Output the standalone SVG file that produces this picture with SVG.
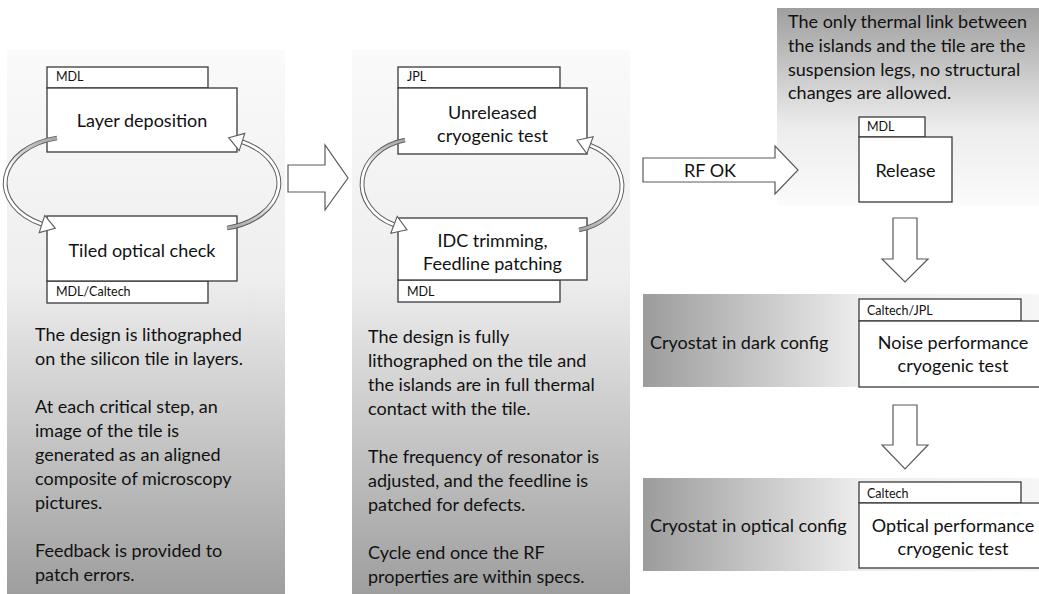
<svg xmlns="http://www.w3.org/2000/svg" xmlns:xlink="http://www.w3.org/1999/xlink" width="1039" height="594" viewBox="0 0 1039 594">
<defs>
<linearGradient id="gPanel" x1="0" y1="0" x2="0" y2="1">
<stop offset="0" stop-color="#fafafa"/><stop offset="0.42" stop-color="#eeeeee"/><stop offset="1" stop-color="#9e9e9e"/>
</linearGradient>
<linearGradient id="gTop" x1="0" y1="0" x2="0" y2="1">
<stop offset="0" stop-color="#9f9f9f"/><stop offset="0.6" stop-color="#ececec"/><stop offset="1" stop-color="#fbfbfb"/>
</linearGradient>
<linearGradient id="gBand" gradientUnits="userSpaceOnUse" x1="643" y1="0" x2="1039" y2="0">
<stop offset="0" stop-color="#9c9c9c"/><stop offset="0.55" stop-color="#ededed"/><stop offset="1" stop-color="#f6f6f6"/>
</linearGradient>
<linearGradient id="gTailL" gradientUnits="userSpaceOnUse" x1="0" y1="136" x2="0" y2="166">
<stop offset="0" stop-color="#a0a0a0"/><stop offset="1" stop-color="#ffffff"/>
</linearGradient>
<linearGradient id="gTailM" gradientUnits="userSpaceOnUse" x1="0" y1="138" x2="0" y2="168">
<stop offset="0" stop-color="#a0a0a0"/><stop offset="1" stop-color="#ffffff"/>
</linearGradient>
<style>
.box{fill:#ffffff;stroke:#3a3a3a;stroke-width:1.3}
.fat{fill:#ffffff;stroke:#5a5a5a;stroke-width:1.2;stroke-linejoin:miter}
.arcO{fill:none;stroke:#5e5e5e;stroke-width:4.8}
.arcI{fill:none;stroke-width:2.8}
.head{fill:#ffffff;stroke:#5e5e5e;stroke-width:1.1;stroke-linejoin:miter}
.t{font-family:Lato,"Liberation Sans",sans-serif;font-size:18px;fill:#111111}
.c{text-anchor:middle}
.s{font-family:Lato,"Liberation Sans",sans-serif;font-size:12.5px;fill:#111111}
</style>
<g id="arcLeftA">
<path class="arcO" d="M57,138 A66,46 0 0 0 42,224.2"/>
<path class="arcI" d="M57,138 A66,46 0 0 0 42,224.2" stroke="url(#gTailL)"/>
<polygon class="head" points="55.3,228.3 39.2,232.6 44.8,215.4"/>
</g>
<g id="arcMidA">
<path class="arcO" d="M405,140 A56,45.2 0 0 0 394,224.8"/>
<path class="arcI" d="M405,140 A56,45.2 0 0 0 394,224.8" stroke="url(#gTailM)"/>
<polygon class="head" points="407.1,229.8 390.8,233.2 397.2,216.4"/>
</g>
</defs>

<g id="backgrounds">
<rect x="7" y="50" width="278" height="544" fill="url(#gPanel)"/>
<rect x="352" y="50" width="278" height="544" fill="url(#gPanel)"/>
<rect x="777" y="8" width="262" height="197" fill="url(#gTop)"/>
<rect x="643" y="294" width="396" height="93" fill="url(#gBand)"/>
<rect x="643" y="478" width="396" height="93" fill="url(#gBand)"/>
</g>

<g id="n-layer">
<rect class="box" x="47" y="67" width="161" height="21"/>
<text class="s" x="56" y="81">MDL</text>
<rect class="box" x="47" y="88" width="190" height="64"/>
<text class="t c" x="142" y="127">Layer deposition</text>
</g>

<g id="n-tiled">
<rect class="box" x="47" y="281" width="161" height="22"/>
<text class="s" x="56" y="296">MDL/Caltech</text>
<rect class="box" x="47" y="216" width="190" height="65"/>
<text class="t c" x="142" y="257">Tiled optical check</text>
</g>

<g id="n-unreleased">
<rect class="box" x="398" y="67" width="162" height="21"/>
<text class="s" x="407" y="81">JPL</text>
<rect class="box" x="398" y="88" width="189" height="66"/>
<text class="t c" x="492.5" y="119">Unreleased</text>
<text class="t c" x="492.5" y="142">cryogenic test</text>
</g>

<g id="n-idc">
<rect class="box" x="398" y="280" width="162" height="22"/>
<text class="s" x="407" y="296">MDL</text>
<rect class="box" x="398" y="218" width="189" height="62"/>
<text class="t c" x="492.5" y="247">IDC trimming,</text>
<text class="t c" x="492.5" y="270">Feedline patching</text>
</g>

<g id="n-release">
<rect class="box" x="859" y="117" width="66" height="20"/>
<text class="s" x="867" y="131">MDL</text>
<rect class="box" x="859" y="137" width="93" height="65"/>
<text class="t c" x="905.5" y="177">Release</text>
</g>

<g id="n-noise">
<rect class="box" x="859" y="299" width="162" height="22"/>
<text class="s" x="867" y="315">Caltech/JPL</text>
<rect class="box" x="859" y="321" width="190" height="66"/>
<text class="t c" x="953" y="349">Noise performance</text>
<text class="t c" x="953" y="372">cryogenic test</text>
</g>

<g id="n-optical">
<rect class="box" x="859" y="482" width="162" height="21"/>
<text class="s" x="867" y="498">Caltech</text>
<rect class="box" x="859" y="503" width="190" height="65"/>
<text class="t c" x="953" y="532">Optical performance</text>
<text class="t c" x="953" y="555">cryogenic test</text>
</g>

<g id="connectors">
<use xlink:href="#arcLeftA"/>
<use xlink:href="#arcLeftA" transform="rotate(180 142 183)"/>
<use xlink:href="#arcMidA"/>
<use xlink:href="#arcMidA" transform="rotate(180 492 185)"/>
<polygon class="fat" points="288,165 325,165 325,145 348,178 325,210 325,192 288,192"/>
<g id="rfok">
<polygon class="fat" points="643,158 775,158 775,146 798,170 775,194 775,182 643,182"/>
<text class="t c" x="710" y="177">RF OK</text>
</g>
<polygon class="fat" points="893,218 917,218 917,259 928,259 905,282 882,259 893,259"/>
<polygon class="fat" points="893,405 917,405 917,445 928,445 905,469 882,445 893,445"/>
</g>

<g id="labels">
<text class="t" x="35" y="341">The design is lithographed</text>
<text class="t" x="35" y="365">on the silicon tile in layers.</text>
<text class="t" x="35" y="413">At each critical step, an</text>
<text class="t" x="35" y="437">image of the tile is</text>
<text class="t" x="35" y="461">generated as an aligned</text>
<text class="t" x="35" y="485">composite of microscopy</text>
<text class="t" x="35" y="509">pictures.</text>
<text class="t" x="35" y="557">Feedback is provided to</text>
<text class="t" x="35" y="581">patch errors.</text>

<text class="t" x="368" y="343">The design is fully</text>
<text class="t" x="368" y="367">lithographed on the tile and</text>
<text class="t" x="368" y="391">the islands are in full thermal</text>
<text class="t" x="368" y="415">contact with the tile.</text>
<text class="t" x="368" y="463">The frequency of resonator is</text>
<text class="t" x="368" y="487">adjusted, and the feedline is</text>
<text class="t" x="368" y="511">patched for defects.</text>
<text class="t" x="368" y="559">Cycle end once the RF</text>
<text class="t" x="368" y="583">properties are within specs.</text>

<text class="t" x="788" y="28">The only thermal link between</text>
<text class="t" x="788" y="52">the islands and the tile are the</text>
<text class="t" x="788" y="76">suspension legs, no structural</text>
<text class="t" x="788" y="99">changes are allowed.</text>

<text class="t" x="650" y="349">Cryostat in dark config</text>
<text class="t" x="650" y="532">Cryostat in optical config</text>
</g>
</svg>
